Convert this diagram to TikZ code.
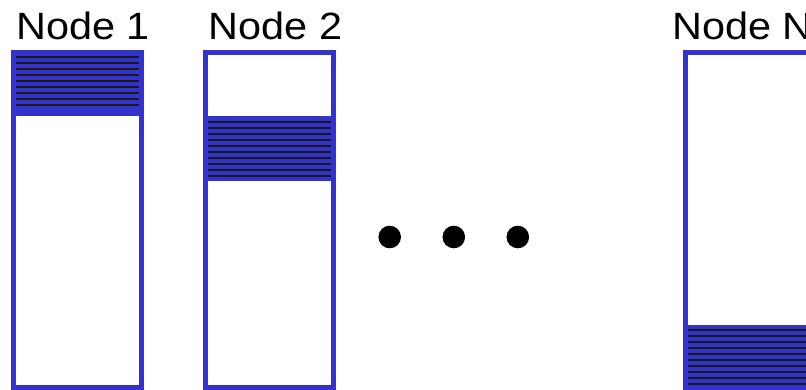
\documentclass[tikz,border=0pt]{standalone}
\usepackage{fontspec}
\setmainfont[FakeStretch=1.09]{Liberation Sans}
\definecolor{slotblue}{RGB}{51,51,204}
\definecolor{stripe}{RGB}{26,26,26}

% #1 outer left x, #2 band top, #3 band bottom, #4 first stripe y, #5 stripe count
\newcommand\memblock[5]{%
  \fill[slotblue] (#1,#2) rectangle (#1+133,#3);
  \foreach \k in {1,...,#5}
    \draw[stripe, line width=2] (#1+3,{#4+6*(\k-1)}) -- (#1+131,{#4+6*(\k-1)});
  \draw[blockframe] (#1+2.5,52.5) rectangle (#1+130.5,387.5);
}

\begin{document}
\begin{tikzpicture}[x=1pt,y=-1pt,
  blockframe/.style={draw=slotblue, line width=5},
  label/.style={anchor=base west, inner sep=0, font=\fontsize{38}{40}\selectfont},
  dot/.style={circle, fill=black, inner sep=0, minimum size=22.6}]
\useasboundingbox (0,0) rectangle (806,390);
\clip (0,0) rectangle (806,390);

\memblock{11}{50}{116}{57}{9}
\memblock{203}{116}{181}{122}{10}
\memblock{683}{325}{390}{329.5}{10}

\node[label] (lab1) at (16,40) {Node 1};
\node[label] (lab2) at (208.6,40) {Node 2};
\node[label] (labN) at (672,40) {Node N};

\node[dot] (d1) at (389.7,237) {};
\node[dot] (d2) at (453.8,237) {};
\node[dot] (d3) at (517.8,237) {};
\end{tikzpicture}
\end{document}
